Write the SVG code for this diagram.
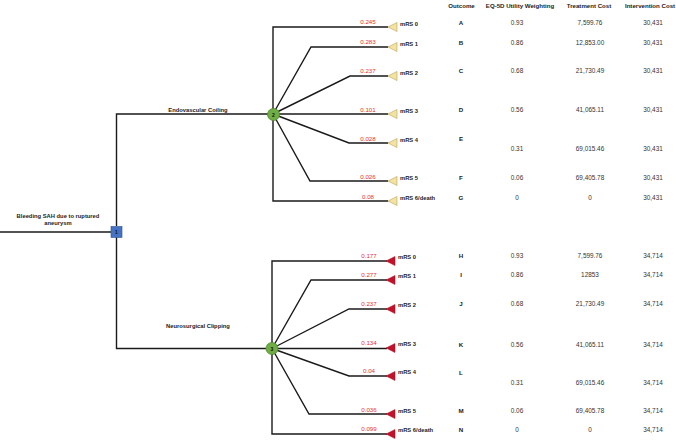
<svg xmlns="http://www.w3.org/2000/svg" width="676" height="440" viewBox="0 0 676 440">
<style>
.ln{fill:none;stroke:#1a1a1a;stroke-width:1.4}
.lb{font-family:"Liberation Sans",Arial,sans-serif;font-weight:bold;font-size:5.8px;fill:#222}
.hd{font-family:"Liberation Sans",Arial,sans-serif;font-weight:bold;font-size:6.1px;fill:#222;text-anchor:middle}
.v{font-family:"Liberation Sans",Arial,sans-serif;font-size:6.4px;fill:#333;text-anchor:middle}
.L{font-family:"Liberation Sans",Arial,sans-serif;font-weight:bold;font-size:6.2px;fill:#222;text-anchor:middle}
.p{font-family:"Liberation Sans",Arial,sans-serif;font-size:6.2px;fill:#e3342c;text-anchor:middle}
.ty{fill:#f3e3a2;stroke:#b8a35a;stroke-width:0.6}
.tr{fill:#c2122b;stroke:#a00f22;stroke-width:0.5}
.cn{fill:#6fae45;stroke:#4f8a2c;stroke-width:0.8}
.nt{font-family:"Liberation Sans",Arial,sans-serif;font-weight:bold;font-size:5px;fill:#111;text-anchor:middle}
</style>
<g id="connectors">
<path class="ln" d="M0,232 H111"/>
<path class="ln" d="M116.5,226 V114 H268"/>
<path class="ln" d="M116.5,237 V348.5 H266"/>
<path class="ln" d="M273,114 V27 H388"/>
<path class="ln" d="M273,114 L311,47 H388"/>
<path class="ln" d="M273,114 L350,76 H388"/>
<path class="ln" d="M273,114 H388"/>
<path class="ln" d="M273,114 L349,143 H388"/>
<path class="ln" d="M273,114 L310,181 H388"/>
<path class="ln" d="M273,114 V201 H388"/>
<path class="ln" d="M272,348.5 V261 H387"/>
<path class="ln" d="M272,348.5 L311,280 H387"/>
<path class="ln" d="M272,348.5 L349,309 H387"/>
<path class="ln" d="M272,348.5 H387"/>
<path class="ln" d="M272,348.5 L349,376 H387"/>
<path class="ln" d="M272,348.5 L309,414 H387"/>
<path class="ln" d="M272,348.5 V434 H387"/>
<text class="lb" x="198" y="111.5" text-anchor="middle">Endovascular Coiling</text>
<text class="lb" x="198" y="328" text-anchor="middle">Neurosurgical Clipping</text>
<text class="p" x="368" y="24">0.245</text>
<text class="p" x="368" y="44">0.283</text>
<text class="p" x="368" y="73">0.237</text>
<text class="p" x="368" y="111.5">0.101</text>
<text class="p" x="368" y="140.5">0.028</text>
<text class="p" x="368" y="178.5">0.026</text>
<text class="p" x="368" y="198.5">0.08</text>
<text class="p" x="369" y="258">0.177</text>
<text class="p" x="369" y="277">0.277</text>
<text class="p" x="369" y="306">0.237</text>
<text class="p" x="369" y="344.5">0.134</text>
<text class="p" x="369" y="373">0.04</text>
<text class="p" x="369" y="411.5">0.036</text>
<text class="p" x="369" y="431">0.099</text>
</g>
<g id="root">
<text class="lb" x="58" y="217.5" text-anchor="middle">Bleeding SAH due to ruptured</text>
<text class="lb" x="58" y="225" text-anchor="middle">aneurysm</text>
</g>
<g id="node1">
<rect x="111" y="226.5" width="11" height="11" fill="#4472c4" stroke="#2f528f" stroke-width="0.6"/>
<text class="nt" x="116.5" y="233.8">1</text>
</g>
<g id="node2">
<circle class="cn" cx="273.5" cy="114.5" r="6"/>
<text class="nt" x="273.5" y="116.5">2</text>
</g>
<g id="node3">
<circle class="cn" cx="272" cy="348.5" r="6"/>
<text class="nt" x="272" y="350.5">3</text>
</g>
<g id="terminals-top">
<polygon class="ty" points="388,27 397,22.5 397,31.5"/>
<polygon class="ty" points="388,47 397,42.5 397,51.5"/>
<polygon class="ty" points="388,76 397,71.5 397,80.5"/>
<polygon class="ty" points="388,114 397,109.5 397,118.5"/>
<polygon class="ty" points="388,143 397,138.5 397,147.5"/>
<polygon class="ty" points="388,181 397,176.5 397,185.5"/>
<polygon class="ty" points="388,201 397,196.5 397,205.5"/>
<text class="lb" x="400" y="26">mRS 0</text>
<text class="lb" x="400" y="46">mRS 1</text>
<text class="lb" x="400" y="75">mRS 2</text>
<text class="lb" x="400" y="113">mRS 3</text>
<text class="lb" x="400" y="142">mRS 4</text>
<text class="lb" x="400" y="180">mRS 5</text>
<text class="lb" x="400" y="200">mRS 6/death</text>
</g>
<g id="terminals-bottom">
<polygon class="tr" points="386,261 395,256.5 395,265.5"/>
<polygon class="tr" points="386,280 395,275.5 395,284.5"/>
<polygon class="tr" points="386,309 395,304.5 395,313.5"/>
<polygon class="tr" points="386,348 395,343.5 395,352.5"/>
<polygon class="tr" points="386,376 395,371.5 395,380.5"/>
<polygon class="tr" points="386,414 395,409.5 395,418.5"/>
<polygon class="tr" points="386,434 395,429.5 395,438.5"/>
<text class="lb" x="398" y="259">mRS 0</text>
<text class="lb" x="398" y="278">mRS 1</text>
<text class="lb" x="398" y="307">mRS 2</text>
<text class="lb" x="398" y="346">mRS 3</text>
<text class="lb" x="398" y="374">mRS 4</text>
<text class="lb" x="398" y="412.5">mRS 5</text>
<text class="lb" x="398" y="432">mRS 6/death</text>
</g>
<g id="table">
<text class="hd" x="461.5" y="7.5">Outcome</text>
<text class="hd" x="520" y="7.5">EQ-5D Utility Weighting</text>
<text class="hd" x="589" y="7.5">Treatment Cost</text>
<text class="hd" x="650" y="7.5">Intervention Cost</text>
<text class="L" x="461" y="25">A</text><text class="v" x="517" y="25">0.93</text><text class="v" x="590" y="25">7,599.76</text><text class="v" x="653" y="25">30,431</text>
<text class="L" x="461" y="44.5">B</text><text class="v" x="517" y="44.5">0.86</text><text class="v" x="590" y="44.5">12,853.00</text><text class="v" x="653" y="44.5">30,431</text>
<text class="L" x="461" y="73.3">C</text><text class="v" x="517" y="73.3">0.68</text><text class="v" x="590" y="73.3">21,730.49</text><text class="v" x="653" y="73.3">30,431</text>
<text class="L" x="461" y="111.5">D</text><text class="v" x="517" y="111.5">0.56</text><text class="v" x="590" y="111.5">41,065.11</text><text class="v" x="653" y="111.5">30,431</text>
<text class="L" x="461" y="140.5">E</text><text class="v" x="517" y="150.5">0.31</text><text class="v" x="590" y="150.5">69,015.46</text><text class="v" x="653" y="150.5">30,431</text>
<text class="L" x="461" y="179.5">F</text><text class="v" x="517" y="179.5">0.06</text><text class="v" x="590" y="179.5">69,405.78</text><text class="v" x="653" y="179.5">30,431</text>
<text class="L" x="461" y="200">G</text><text class="v" x="517" y="200">0</text><text class="v" x="590" y="200">0</text><text class="v" x="653" y="200">30,431</text>
<text class="L" x="461" y="258">H</text><text class="v" x="517" y="258">0.93</text><text class="v" x="590" y="258">7,599.76</text><text class="v" x="653" y="258">34,714</text>
<text class="L" x="461" y="277.3">I</text><text class="v" x="517" y="277.3">0.86</text><text class="v" x="590" y="277.3">12853</text><text class="v" x="653" y="277.3">34,714</text>
<text class="L" x="461" y="306.3">J</text><text class="v" x="517" y="306.3">0.68</text><text class="v" x="590" y="306.3">21,730.49</text><text class="v" x="653" y="306.3">34,714</text>
<text class="L" x="461" y="347.3">K</text><text class="v" x="517" y="347.3">0.56</text><text class="v" x="590" y="347.3">41,065.11</text><text class="v" x="653" y="347.3">34,714</text>
<text class="L" x="461" y="374.5">L</text><text class="v" x="517" y="384.5">0.31</text><text class="v" x="590" y="384.5">69,015.46</text><text class="v" x="653" y="384.5">34,714</text>
<text class="L" x="461" y="413">M</text><text class="v" x="517" y="413">0.06</text><text class="v" x="590" y="413">69,405.78</text><text class="v" x="653" y="413">34,714</text>
<text class="L" x="461" y="431.5">N</text><text class="v" x="517" y="431.5">0</text><text class="v" x="590" y="431.5">0</text><text class="v" x="653" y="431.5">34,714</text>
</g>
</svg>
